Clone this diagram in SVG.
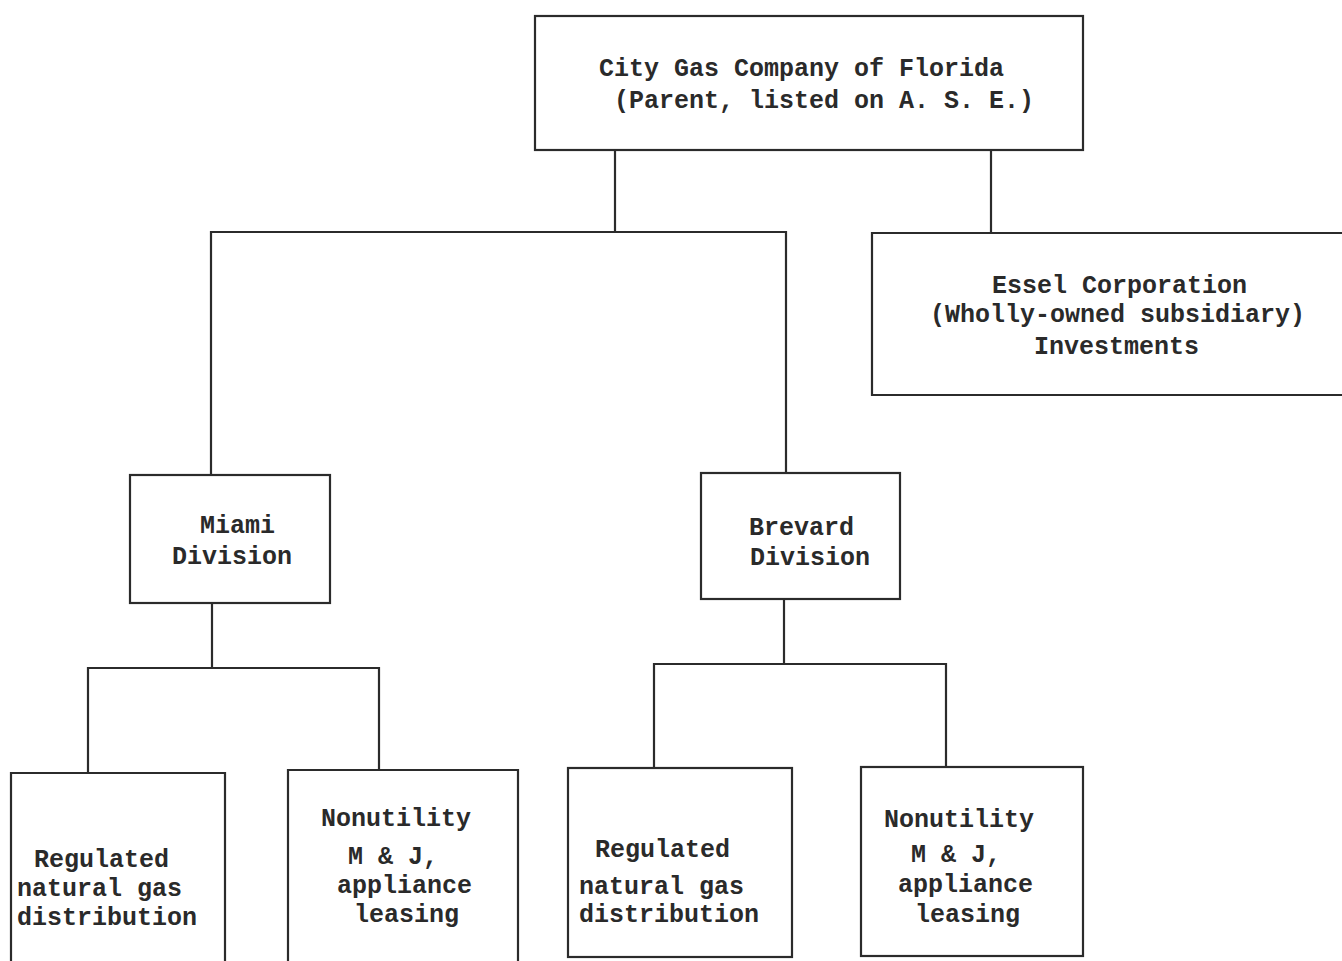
<svg xmlns="http://www.w3.org/2000/svg" width="1342" height="961" viewBox="0 0 1342 961">
<style>
.box{fill:none;stroke:#2b2b2b;stroke-width:2.2}
.ln{fill:none;stroke:#2b2b2b;stroke-width:2.2}
text{font-family:"Liberation Mono","Courier New",monospace;font-size:25px;font-weight:bold;fill:#2a2a2a}
</style>
<rect x="0" y="0" width="1342" height="961" fill="#ffffff"/>
<g id="connectors">
<path class="ln" d="M615,150 V232"/>
<path class="ln" d="M211,475 V232 H786 V473"/>
<path class="ln" d="M991,150 V233"/>
<path class="ln" d="M212,603 V668"/>
<path class="ln" d="M88,773 V668 H379 V770"/>
<path class="ln" d="M784,599 V664"/>
<path class="ln" d="M654,768 V664 H946 V767"/>
</g>
<g id="parent">
<rect class="box" x="535" y="16" width="548" height="134"/>
<text x="599" y="76">City Gas Company of Florida</text>
<text x="614" y="108">(Parent, listed on A. S. E.)</text>
</g>
<g id="essel">
<path class="box" d="M1342,233 H872 V395 H1342"/>
<text x="992" y="293">Essel Corporation</text>
<text x="930" y="322">(Wholly-owned subsidiary)</text>
<text x="1034" y="354">Investments</text>
</g>
<g id="miami">
<rect class="box" x="130" y="475" width="200" height="128"/>
<text x="200" y="533">Miami</text>
<text x="172" y="564">Division</text>
</g>
<g id="brevard">
<rect class="box" x="701" y="473" width="199" height="126"/>
<text x="749" y="535">Brevard</text>
<text x="750" y="565">Division</text>
</g>
<g id="miami-regulated">
<path class="box" d="M11,961 V773 H225 V961"/>
<text x="34" y="867">Regulated</text>
<text x="17" y="896">natural gas</text>
<text x="17" y="925">distribution</text>
</g>
<g id="miami-nonutility">
<path class="box" d="M288,961 V770 H518 V961"/>
<text x="321" y="826">Nonutility</text>
<text x="348" y="864">M &amp; J,</text>
<text x="337" y="893">appliance</text>
<text x="354" y="922">leasing</text>
</g>
<g id="brevard-regulated">
<rect class="box" x="568" y="768" width="224" height="189"/>
<text x="595" y="857">Regulated</text>
<text x="579" y="894">natural gas</text>
<text x="579" y="922">distribution</text>
</g>
<g id="brevard-nonutility">
<rect class="box" x="861" y="767" width="222" height="189"/>
<text x="884" y="827">Nonutility</text>
<text x="911" y="862">M &amp; J,</text>
<text x="898" y="892">appliance</text>
<text x="915" y="922">leasing</text>
</g>
</svg>
